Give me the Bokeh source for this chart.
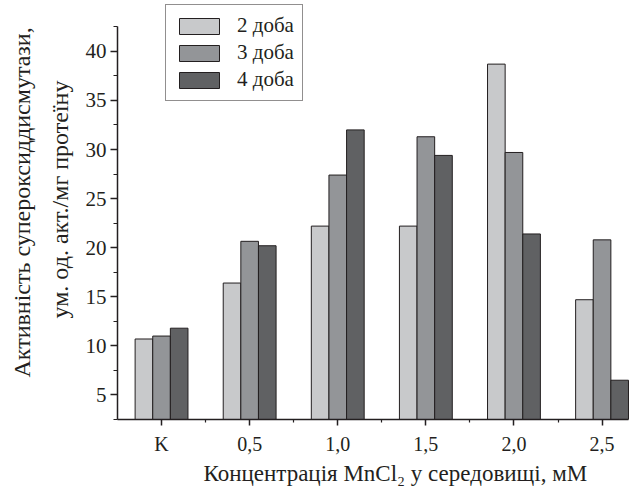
from bokeh.plotting import figure
from bokeh.models import (ColumnDataSource, Range1d, FixedTicker, Legend, LegendItem, Title)
from bokeh.transform import dodge
from bokeh.embed import file_html
from bokeh.resources import INLINE

# ---- data ----
categories = ["K", "0,5", "1,0", "1,5", "2,0", "2,5"]
series_names = ["2 доба", "3 доба", "4 доба"]
day2 = [10.7, 16.4, 22.2, 22.2, 38.7, 14.7]
day3 = [11.0, 20.65, 27.4, 31.3, 29.7, 20.8]
day4 = [11.8, 20.2, 32.0, 29.4, 21.4, 6.5]
y_major_ticks = [5, 10, 15, 20, 25, 30, 35, 40]
y_minor_ticks = [2.5, 7.5, 12.5, 17.5, 22.5, 27.5, 32.5, 37.5, 42.5]
x_minor_ticks = [0.5, 1.5, 2.5, 3.5, 4.5]
y_title_1 = "Активність супероксиддисмутази,"
y_title_2 = "ум. од. акт./мг протеїну"
x_title = "Концентрація MnCl\u2082 у середовищі, мМ"

xs = list(range(len(categories)))
src = ColumnDataSource(dict(x=xs, d2=day2, d3=day3, d4=day4))

FONT = "Liberation Serif"
INK = "#231f20"
colors = ["#c8c9cb", "#939598", "#606163"]

p = figure(width=639, height=489, output_backend="svg", toolbar_location=None,
           x_range=Range1d(-0.5, 5.425), y_range=Range1d(2.5, 45.18),
           min_border_left=117, min_border_right=0, min_border_top=0, min_border_bottom=70)
p.outline_line_color = None
p.xgrid.visible = False
p.ygrid.visible = False
p.background_fill_color = "white"
p.border_fill_color = "white"

w = 0.2
renderers = []
for col, off, c in zip(["d2", "d3", "d4"], [-0.2, 0.0, 0.2], colors):
    r = p.vbar(x=dodge("x", off), top=col, bottom=0, width=w, source=src,
               fill_color=c, line_color=INK, line_width=1)
    renderers.append(r)

# axes
p.xaxis.ticker = FixedTicker(ticks=xs, minor_ticks=x_minor_ticks)
p.xaxis.major_label_overrides = {i: lab for i, lab in zip(xs, categories)}
p.yaxis.ticker = FixedTicker(ticks=y_major_ticks, minor_ticks=y_minor_ticks)
p.xaxis.bounds = (-0.5, 5.3)
p.yaxis.bounds = (2.5, 42.5)

for ax in (p.xaxis[0], p.yaxis[0]):
    ax.axis_line_color = INK
    ax.axis_line_width = 1.5
    ax.major_tick_line_color = INK
    ax.minor_tick_line_color = INK
    ax.major_tick_line_width = 1.5
    ax.minor_tick_line_width = 1.2
    ax.major_tick_in = 0
    ax.minor_tick_in = 0
    ax.major_label_text_font = FONT
    ax.major_label_text_color = INK

p.xaxis.major_tick_out = 6
p.xaxis.minor_tick_out = 3
p.xaxis.major_label_text_font_size = "20px"
p.xaxis.major_label_standoff = 7
p.yaxis.major_tick_out = 7
p.yaxis.minor_tick_out = 4
p.yaxis.major_label_text_font_size = "21px"
p.yaxis.major_label_standoff = 4

# titles
def mk_title(text, offset, standoff, size):
    return Title(text=text, align="left", offset=offset, standoff=standoff,
                 text_font=FONT, text_font_size=size, text_font_style="normal",
                 text_color=INK)

p.add_layout(mk_title(x_title, 86, 2, "23px"), "below")
p.add_layout(mk_title(y_title_2, 101, 20, "24px"), "left")
p.add_layout(mk_title(y_title_1, 42, 0, "24px"), "left")

legend = Legend(items=[LegendItem(label=n, renderers=[r]) for n, r in zip(series_names, renderers)],
                location=(48, 318), orientation="vertical",
                border_line_color=INK, border_line_width=1, background_fill_color="white",
                background_fill_alpha=1, padding=8, spacing=2, margin=0,
                glyph_width=50, glyph_height=20, label_height=20, label_standoff=13,
                label_text_font=FONT, label_text_font_size="21px", label_text_color=INK)
p.add_layout(legend, "center")

open("out.html", "w").write(file_html(p, INLINE))
